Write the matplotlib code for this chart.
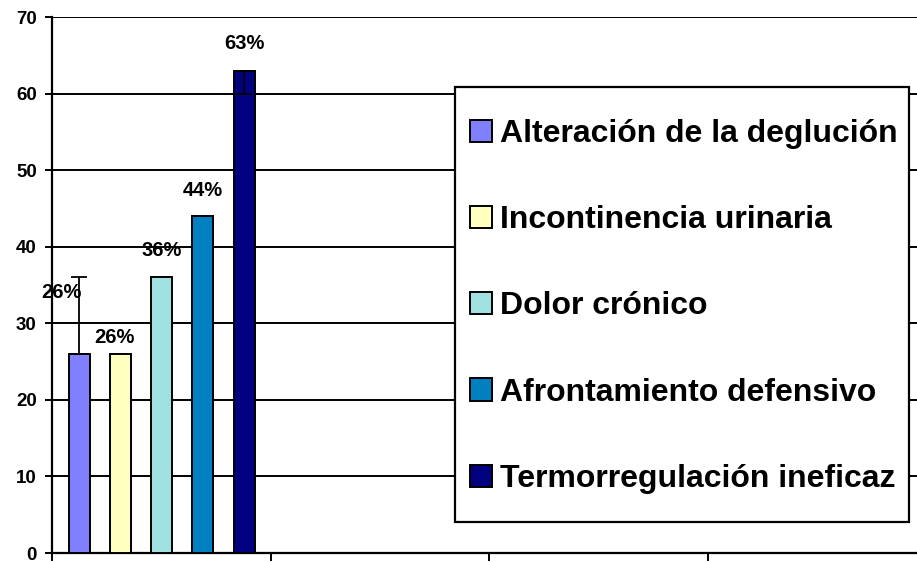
import matplotlib.pyplot as plt
from matplotlib.patches import Patch, Rectangle

plt.rcParams['font.family'] = ['Liberation Sans', 'DejaVu Sans']
plt.rcParams['font.weight'] = 'bold'

# datos
categorias = ['Alteración de la deglución', 'Incontinencia urinaria', 'Dolor crónico',
              'Afrontamiento defensivo', 'Termorregulación ineficaz']
valores = [26, 26, 36, 44, 63]
etiquetas = ['26%', '26%', '36%', '44%', '63%']
err_arriba = [10, 0, 0, 0, 0]
err_abajo = [0, 0, 0, 0, 3]
colores = ['#8080FF', '#FFFFC0', '#A0E0E0', '#0080C0', '#000080']

W, H = 917, 562
fig = plt.figure(figsize=(W / 100, H / 100), dpi=100)
ax = fig.add_axes([52 / W, 9 / H, 874 / W, 536 / H])

offsets = [-0.375, -0.186, 0.0, 0.19, 0.38]
ancho = 0.096
lab_dx = [-0.08, -0.03, 0.0, 0.0, 0.0]
lab_dy = [8.0, 2.2, 3.5, 3.4, 3.5]

for i in range(len(valores)):
    x = 0.5 + offsets[i]
    ax.bar(x, valores[i], width=ancho, color=colores[i], edgecolor='black',
           linewidth=1.4, zorder=3)
    if err_arriba[i] or err_abajo[i]:
        ax.errorbar(x, valores[i], yerr=[[err_abajo[i]], [err_arriba[i]]],
                    fmt='none', ecolor='black', elinewidth=1.3, capsize=6,
                    capthick=1.3, zorder=4)
    ax.text(x + lab_dx[i], valores[i] + lab_dy[i], etiquetas[i], ha='center',
            va='center', fontsize=14.5, fontweight='bold', zorder=5)

ax.set_xlim(0, 4)
ax.set_ylim(0, 70)
ax.set_yticks(range(0, 71, 10))
ax.set_xticks([0, 1, 2, 3])
ax.set_xticklabels([])
ax.grid(axis='y', color='black', linewidth=1.4, zorder=0)
ax.tick_params(axis='y', direction='out', length=5, width=1.4, labelsize=13.5, pad=6)
ax.tick_params(axis='x', direction='out', length=6, width=1.4)
for s in ['top', 'right']:
    ax.spines[s].set_visible(False)
for s in ['left', 'bottom']:
    ax.spines[s].set_linewidth(1.6)
for lab in ax.get_yticklabels():
    lab.set_fontweight('bold')

# caja de la leyenda
caja = Rectangle((455 / W, 1 - 522 / H), (909 - 455) / W, (522 - 87) / H,
                 transform=fig.transFigure, facecolor='white', edgecolor='black',
                 linewidth=1.6, zorder=10)
fig.patches.append(caja)

handles = [Patch(facecolor=c, edgecolor='black', linewidth=1.4) for c in colores]
leg = fig.legend(handles, categorias, loc='upper left',
                 bbox_to_anchor=(470 / W, 1 - 119 / H), fontsize=23,
                 frameon=False, handlelength=0.7, handleheight=0.7,
                 handletextpad=0.25, labelspacing=1.76, borderpad=0,
                 borderaxespad=0)
leg.set_zorder(11)
for t in leg.get_texts():
    t.set_fontweight('bold')

fig.savefig('out.png', dpi=100)
